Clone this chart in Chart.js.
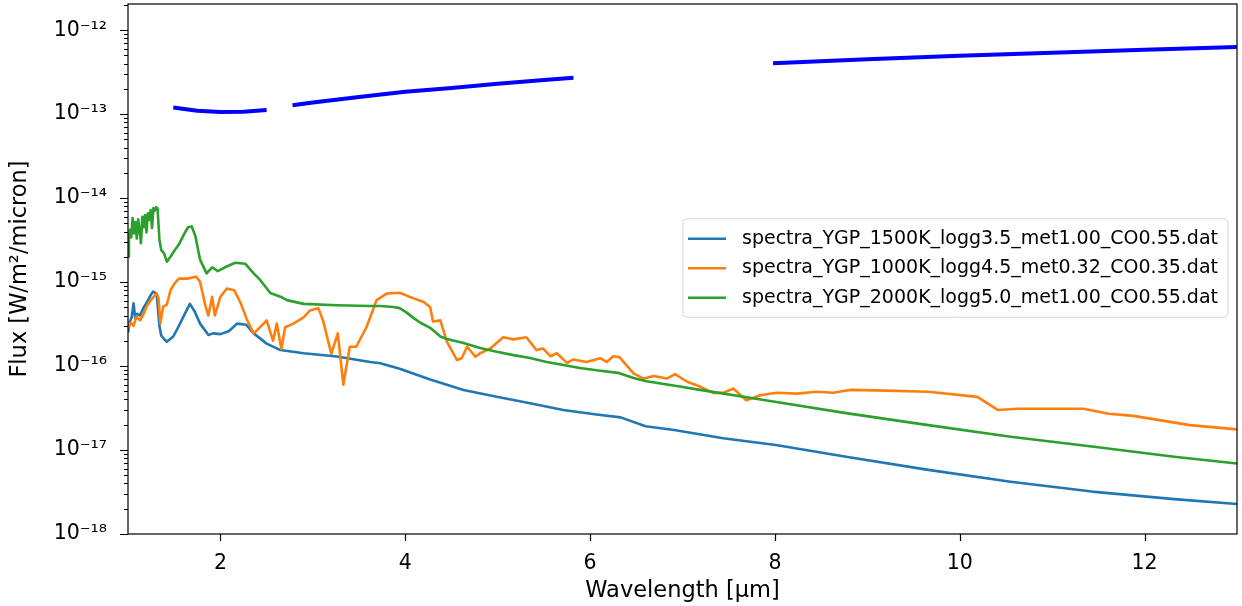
<!DOCTYPE html>
<html>
<head>
<meta charset="utf-8">
<script src="https://cdn.jsdelivr.net/npm/chart.js@4"></script>
<style>
html, body { margin: 0; padding: 0; background: #fff; }
</style>
</head>
<body>
<canvas id="spectraChart" width="1242" height="606"></canvas>
<script>
// model spectra (wavelength in micron, flux in W/m^2/micron)
const wl1500 = [1.00, 1.02, 1.04, 1.06, 1.08, 1.10, 1.13, 1.17, 1.21, 1.24, 1.27, 1.31, 1.34, 1.36, 1.39, 1.42, 1.49, 1.55, 1.62, 1.67, 1.72, 1.78, 1.87, 1.92, 2.00, 2.09, 2.18, 2.28, 2.36, 2.50, 2.65, 2.90, 3.26, 3.62, 3.73, 3.94, 4.27, 4.63, 4.99, 5.35, 5.71, 6.07, 6.33, 6.60, 6.91, 7.44, 8.01, 8.77, 9.66, 10.55, 11.43, 12.32, 13.0];
const flux1500 = [2.5e-16, 3.4e-16, 3.8e-16, 5.6e-16, 3.6e-16, 4.2e-16, 4.0e-16, 5.0e-16, 5.9e-16, 6.8e-16, 7.7e-16, 7.3e-16, 3.0e-16, 2.3e-16, 2.1e-16, 1.95e-16, 2.25e-16, 3.0e-16, 4.3e-16, 5.5e-16, 4.5e-16, 3.2e-16, 2.35e-16, 2.45e-16, 2.4e-16, 2.6e-16, 3.2e-16, 3.1e-16, 2.45e-16, 1.85e-16, 1.55e-16, 1.42e-16, 1.3e-16, 1.12e-16, 1.08e-16, 9.3e-17, 6.9e-17, 5.2e-17, 4.3e-17, 3.6e-17, 3.0e-17, 2.65e-17, 2.45e-17, 1.92e-17, 1.73e-17, 1.38e-17, 1.15e-17, 8.3e-18, 5.8e-18, 4.2e-18, 3.2e-18, 2.6e-18, 2.28e-18];

const wl1000 = [1.00, 1.03, 1.06, 1.09, 1.13, 1.17, 1.20, 1.25, 1.31, 1.33, 1.35, 1.38, 1.42, 1.46, 1.50, 1.55, 1.64, 1.74, 1.78, 1.80, 1.84, 1.87, 1.91, 1.94, 2.00, 2.07, 2.15, 2.22, 2.29, 2.36, 2.43, 2.50, 2.57, 2.61, 2.66, 2.70, 2.79, 2.90, 2.97, 3.06, 3.11, 3.20, 3.27, 3.33, 3.40, 3.47, 3.58, 3.69, 3.80, 3.94, 4.09, 4.20, 4.27, 4.30, 4.38, 4.45, 4.56, 4.61, 4.67, 4.76, 4.81, 4.92, 5.06, 5.17, 5.31, 5.42, 5.49, 5.57, 5.64, 5.75, 5.82, 5.96, 6.11, 6.18, 6.25, 6.32, 6.47, 6.58, 6.69, 6.83, 6.92, 7.05, 7.19, 7.33, 7.44, 7.55, 7.69, 7.84, 8.02, 8.24, 8.45, 8.63, 8.81, 9.20, 9.66, 10.19, 10.41, 10.63, 11.34, 11.61, 11.88, 12.49, 13.0];
const flux1000 = [2.8e-16, 3.3e-16, 3.0e-16, 3.9e-16, 3.5e-16, 4.2e-16, 5.1e-16, 6.2e-16, 7.3e-16, 6.5e-16, 3.2e-16, 5.1e-16, 5.4e-16, 8.0e-16, 9.5e-16, 1.1e-15, 1.1e-15, 1.16e-15, 1.0e-15, 8.0e-16, 5.1e-16, 4.0e-16, 6.7e-16, 4.0e-16, 6.7e-16, 8.4e-16, 8.0e-16, 5.6e-16, 3.5e-16, 2.45e-16, 2.9e-16, 3.5e-16, 2.0e-16, 3.2e-16, 1.6e-16, 2.9e-16, 3.2e-16, 3.8e-16, 4.6e-16, 4.9e-16, 3.5e-16, 1.4e-16, 2.45e-16, 6.0e-17, 1.7e-16, 1.7e-16, 2.9e-16, 6.1e-16, 7.3e-16, 7.45e-16, 6.4e-16, 5.8e-16, 5.0e-16, 3.4e-16, 3.5e-16, 1.95e-16, 1.18e-16, 1.24e-16, 1.7e-16, 1.29e-16, 1.42e-16, 1.62e-16, 2.2e-16, 2.08e-16, 2.2e-16, 1.55e-16, 1.62e-16, 1.31e-16, 1.42e-16, 1.09e-16, 1.2e-16, 1.12e-16, 1.24e-16, 1.12e-16, 1.31e-16, 1.27e-16, 8.2e-17, 7.1e-17, 7.6e-17, 7.1e-17, 8.0e-17, 6.5e-17, 5.7e-17, 4.8e-17, 4.8e-17, 5.4e-17, 3.9e-17, 4.5e-17, 4.8e-17, 4.7e-17, 4.95e-17, 4.8e-17, 5.2e-17, 5.1e-17, 4.95e-17, 4.3e-17, 3.0e-17, 3.1e-17, 3.1e-17, 2.7e-17, 2.55e-17, 1.98e-17, 1.76e-17];

const wl2000 = [1.00, 1.01, 1.02, 1.035, 1.05, 1.065, 1.08, 1.095, 1.11, 1.125, 1.14, 1.155, 1.17, 1.185, 1.20, 1.215, 1.23, 1.245, 1.26, 1.275, 1.29, 1.305, 1.32, 1.34, 1.36, 1.39, 1.42, 1.46, 1.50, 1.55, 1.60, 1.65, 1.69, 1.73, 1.78, 1.85, 1.91, 1.97, 2.05, 2.16, 2.27, 2.36, 2.43, 2.54, 2.65, 2.72, 2.90, 3.26, 3.62, 3.73, 3.87, 3.94, 4.02, 4.08, 4.16, 4.27, 4.38, 4.45, 4.63, 4.81, 4.99, 5.17, 5.35, 5.53, 5.71, 5.89, 6.07, 6.30, 6.47, 6.61, 6.97, 7.19, 7.88, 8.77, 9.66, 10.55, 11.43, 12.32, 13.0];
const flux2000 = [2.0e-15, 3.2e-15, 4.2e-15, 3.4e-15, 5.8e-15, 3.8e-15, 5.2e-15, 3.3e-15, 5.6e-15, 4.2e-15, 2.9e-15, 6.0e-15, 4.5e-15, 6.3e-15, 3.9e-15, 6.6e-15, 5.5e-15, 7.2e-15, 4.4e-15, 7.6e-15, 7.1e-15, 7.8e-15, 7.5e-15, 3.2e-15, 2.4e-15, 2.2e-15, 1.75e-15, 2.0e-15, 2.35e-15, 2.8e-15, 3.6e-15, 4.5e-15, 4.6e-15, 3.5e-15, 1.85e-15, 1.27e-15, 1.5e-15, 1.35e-15, 1.5e-15, 1.7e-15, 1.65e-15, 1.27e-15, 1.06e-15, 7.4e-16, 6.7e-16, 6.1e-16, 5.5e-16, 5.3e-16, 5.2e-16, 5.2e-16, 5.05e-16, 4.9e-16, 4.3e-16, 3.8e-16, 3.3e-16, 2.85e-16, 2.25e-16, 2.1e-16, 1.88e-16, 1.64e-16, 1.48e-16, 1.35e-16, 1.25e-16, 1.12e-16, 1.03e-16, 9.5e-17, 8.9e-17, 8.3e-17, 7.2e-17, 6.6e-17, 5.7e-17, 5.2e-17, 3.95e-17, 2.75e-17, 1.98e-17, 1.44e-17, 1.1e-17, 8.3e-18, 6.9e-18];

// the thick blue curve, three separate pieces
const bandWl1 = [1.49, 1.75, 2.00, 2.25, 2.50];
const bandFlux1 = [1.2e-13, 1.1e-13, 1.06e-13, 1.07e-13, 1.12e-13];
const bandWl2 = [2.78, 3.0, 3.5, 4.0, 4.5, 5.0, 5.5, 5.82];
const bandFlux2 = [1.28e-13, 1.38e-13, 1.6e-13, 1.85e-13, 2.05e-13, 2.3e-13, 2.55e-13, 2.72e-13];
const bandWl3 = [7.98, 9.0, 10.0, 11.0, 12.0, 13.0];
const bandFlux3 = [4.05e-13, 4.5e-13, 4.95e-13, 5.4e-13, 5.85e-13, 6.3e-13];

const seriesLabels = [
    'spectra_YGP_1500K_logg3.5_met1.00_CO0.55.dat',
    'spectra_YGP_1000K_logg4.5_met0.32_CO0.35.dat',
    'spectra_YGP_2000K_logg5.0_met1.00_CO0.55.dat'
];
const xTickValues = [2, 4, 6, 8, 10, 12];
const yDecades = [-18, -17, -16, -15, -14, -13, -12];

const FONT = 'DejaVu Sans';
const sup = { '-': '\u207B', '0': '\u2070', '1': '\u00B9', '2': '\u00B2', '3': '\u00B3', '4': '\u2074', '5': '\u2075', '6': '\u2076', '7': '\u2077', '8': '\u2078', '9': '\u2079' };

function pts(xs, ys) {
    return xs.map((x, i) => ({ x: x, y: ys[i] }));
}
function isDecade(v) {
    const l = Math.log10(v);
    return Math.abs(l - Math.round(l)) < 1e-6;
}

// log ticks: every 1..9 x 10^n inside the range
const yTickValues = [];
yDecades.forEach(e => {
    for (let m = 1; m <= 9; m++) yTickValues.push(m * Math.pow(10, e));
});

const frameAndTicks = {
    id: 'frameAndTicks',
    afterDatasetsDraw(chart) {
        const { ctx, chartArea: a, scales: { x, y } } = chart;
        ctx.save();
        ctx.strokeStyle = '#000';
        ctx.lineWidth = 1.2;
        ctx.beginPath();
        y.ticks.forEach(t => {
            const py = Math.round(y.getPixelForValue(t.value)) + 0.5;
            if (py < a.top - 0.5 || py > a.bottom + 1) return;
            const len = isDecade(t.value) ? 8 : 4;
            ctx.moveTo(a.left - len, py);
            ctx.lineTo(a.left, py);
        });
        x.ticks.forEach(t => {
            const px = Math.round(x.getPixelForValue(t.value)) + 0.5;
            ctx.moveTo(px, a.bottom);
            ctx.lineTo(px, a.bottom + 7);
        });
        ctx.stroke();
        ctx.strokeRect(a.left, a.top, a.right - a.left, a.bottom - a.top);
        ctx.restore();
    }
};

const boxLegend = {
    id: 'boxLegend',
    afterDatasetsDraw(chart) {
        const { ctx, chartArea: a } = chart;
        const items = chart.data.datasets.filter(d => d.showInLegend);
        ctx.save();
        ctx.font = '19px "' + FONT + '"';
        const textW = Math.max(...items.map(d => ctx.measureText(d.label).width));
        const rowH = 29.5;
        const boxW = 5 + 38 + 16 + textW + 10;
        const boxH = rowH * items.length + 10;
        const boxR = a.right - 9;
        const boxL = boxR - boxW;
        const boxT = (a.top + a.bottom) / 2 - boxH / 2 - 1;
        ctx.beginPath();
        ctx.roundRect(boxL, boxT, boxW, boxH, 4);
        ctx.fillStyle = 'rgba(255,255,255,0.8)';
        ctx.fill();
        ctx.strokeStyle = 'rgba(204,204,204,0.8)';
        ctx.lineWidth = 1;
        ctx.stroke();
        items.forEach((d, i) => {
            const cy = boxT + 20 + i * rowH;
            ctx.strokeStyle = d.borderColor;
            ctx.lineWidth = d.borderWidth;
            ctx.beginPath();
            ctx.moveTo(boxL + 5, cy);
            ctx.lineTo(boxL + 43, cy);
            ctx.stroke();
            ctx.fillStyle = '#000';
            ctx.textBaseline = 'middle';
            ctx.fillText(d.label, boxL + 59, cy);
        });
        ctx.restore();
    }
};

const spectraCtx = document.getElementById('spectraChart').getContext('2d');
const spectraChart = new Chart(spectraCtx, {
    type: 'line',
    data: {
        datasets: [
            { label: seriesLabels[0], data: pts(wl1500, flux1500), borderColor: '#1f77b4', borderWidth: 2.6, order: 3, showInLegend: true },
            { label: seriesLabels[1], data: pts(wl1000, flux1000), borderColor: '#ff7f0e', borderWidth: 2.6, order: 2, showInLegend: true },
            { label: seriesLabels[2], data: pts(wl2000, flux2000), borderColor: '#2ca02c', borderWidth: 2.6, order: 1, showInLegend: true },
            { data: pts(bandWl1, bandFlux1), borderColor: '#0000ff', borderWidth: 4, order: 0 },
            { data: pts(bandWl2, bandFlux2), borderColor: '#0000ff', borderWidth: 4, order: 0 },
            { data: pts(bandWl3, bandFlux3), borderColor: '#0000ff', borderWidth: 4, order: 0 }
        ]
    },
    options: {
        responsive: false,
        animation: false,
        layout: { padding: { top: 4, right: 5, left: 0, bottom: 0 } },
        elements: {
            point: { radius: 0, hoverRadius: 0 },
            line: { tension: 0, fill: false, borderJoinStyle: 'round' }
        },
        plugins: {
            legend: { display: false },
            tooltip: { enabled: false }
        },
        scales: {
            x: {
                type: 'linear',
                min: 1,
                max: 13,
                afterBuildTicks: s => { s.ticks = xTickValues.map(v => ({ value: v })); },
                afterFit: s => { s.height = 72; s.paddingLeft = 0; s.paddingRight = 0; },
                grid: { drawOnChartArea: false, color: 'rgba(0,0,0,0)', tickLength: 7 },
                border: { display: false },
                ticks: { color: '#000', font: { family: FONT, size: 20.5 }, padding: 10, maxRotation: 0, autoSkip: false },
                title: { display: true, text: 'Wavelength [μm]', color: '#000', font: { family: FONT, size: 22.5 }, padding: { top: 0, bottom: 1 } }
            },
            y: {
                type: 'logarithmic',
                min: 1e-18,
                max: 2.05e-12,
                afterBuildTicks: s => { s.ticks = yTickValues.filter(v => v <= 2.05e-12).map(v => ({ value: v })); },
                afterFit: s => { s.width = 128; s.paddingTop = 0; s.paddingBottom = 0; },
                grid: { drawOnChartArea: false, color: 'rgba(0,0,0,0)', tickLength: 8 },
                border: { display: false },
                ticks: {
                    color: '#000',
                    font: { family: FONT, size: 20.5 },
                    padding: 13,
                    autoSkip: false,
                    callback: v => {
                        if (!isDecade(v)) return '';
                        const e = String(Math.round(Math.log10(v)));
                        return '10' + e.split('').map(c => sup[c]).join('');
                    }
                },
                title: { display: true, text: 'Flux [W/m²/micron]', color: '#000', font: { family: FONT, size: 22.5 }, padding: { top: 7, bottom: 0 } }
            }
        }
    },
    plugins: [frameAndTicks, boxLegend]
});
</script>
</body>
</html>
